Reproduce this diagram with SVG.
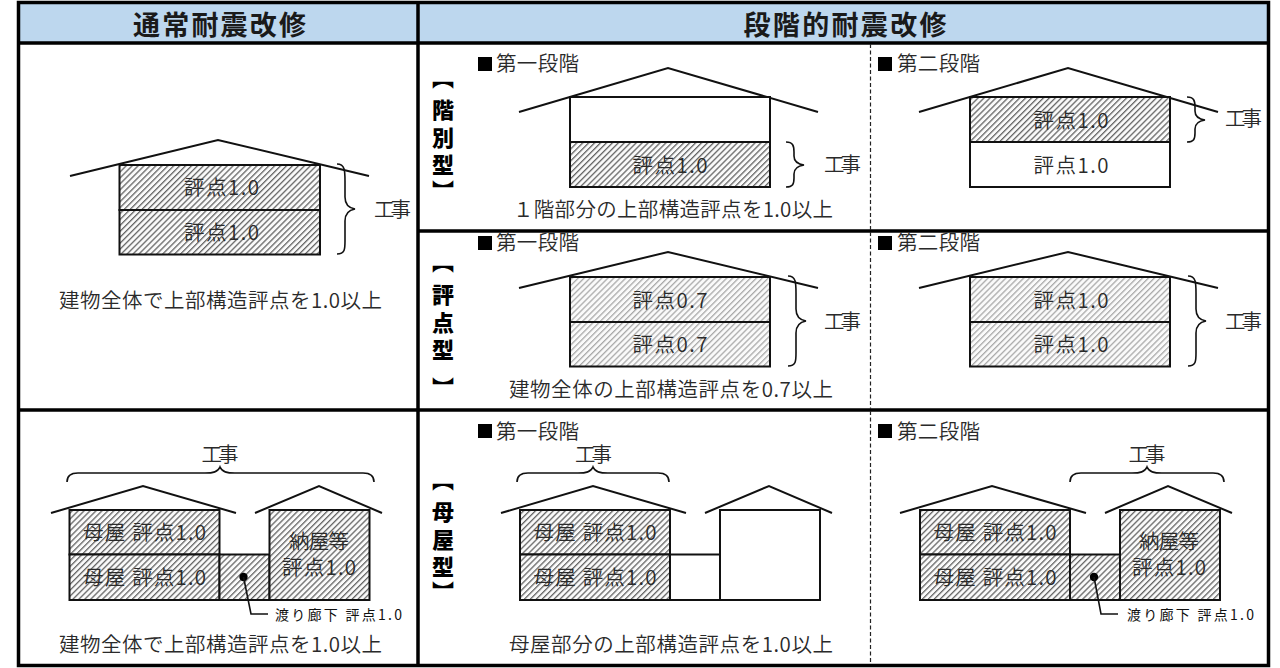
<svg xmlns="http://www.w3.org/2000/svg" width="1280" height="668" viewBox="0 0 1280 668">
<style>
text{font-family:"Noto Sans CJK JP","Noto Sans",sans-serif;fill:#2a2a2a}
.h{font-size:27px;font-weight:700;text-anchor:middle;fill:#1a1a1a}
.t{font-size:20.500px;font-weight:350;text-anchor:middle}
.l{font-size:20.500px;font-weight:350;text-anchor:start}
.s{font-size:14px;font-weight:400;text-anchor:start;fill:#111}
.k{font-size:22px;font-weight:900;writing-mode:vertical-rl;text-anchor:start;letter-spacing:5.500px;fill:#000}
.v{font-size:22px;font-weight:500;writing-mode:vertical-rl;text-anchor:middle;fill:#000}
.w{fill:#fff;stroke:#111;stroke-width:2}
.a{fill:url(#dense);stroke:#111;stroke-width:2}
.b{fill:url(#light);stroke:#111;stroke-width:2}
.r{fill:none;stroke:#111;stroke-width:2}
.c{fill:none;stroke:#111;stroke-width:1.6}
.f{fill:none;stroke:#000;stroke-width:3.5}
</style>
<defs>
<pattern id="dense" width="4.200" height="4.200" patternUnits="userSpaceOnUse" patternTransform="rotate(45)"><rect width="4.200" height="4.200" fill="#fafafa"/><rect width="1.300" height="4.200" fill="#666"/></pattern>
<pattern id="light" width="4.200" height="4.200" patternUnits="userSpaceOnUse" patternTransform="rotate(45)"><rect width="4.200" height="4.200" fill="#fafafa"/><rect width="1.300" height="4.200" fill="#aaa"/></pattern>
<path id="braceTall" d="M0,0C8,0 8,7 8,17L8,33C8,40 12,44 18,45C12,46 8,50 8,57L8,77C8,85 8,90 0,90"/>
<path id="braceShort" d="M0,0C7,0 8,4 8,10L8,14C8,19 11,22 18,23C11,24 8,27 8,32L8,36C8,42 7,45 0,45"/>
</defs>
<rect width="1280" height="668" fill="#fff"/>
<g id="header">
<rect x="19" y="3" width="1249" height="40" fill="#bdd7ee"/>
<text class="h" x="219.500" y="35" textLength="173">通常耐震改修</text>
<text class="h" x="845" y="35" textLength="203">段階的耐震改修</text>
</g>
<g id="grid">
<rect class="f" x="18.500" y="2.500" width="1250" height="663"/>
<path class="f" d="M18.500,43H1268.500M418,2.500V665.500M418,231H1268.500M18.500,410H1268.500"/>
<path d="M870.500,44V230M870.500,232V409M870.500,411V664" fill="none" stroke="#222" stroke-width="1.200" stroke-dasharray="4 2.500"/>
</g>
<g id="normal-a">
<path class="r" d="M70,176L218,140L369,176"/>
<rect class="a" x="119.500" y="165" width="200.500" height="45"/>
<rect class="a" x="119.500" y="210" width="200.500" height="44.500"/>
<use href="#braceTall" class="c" x="337" y="164"/>
<text class="t" x="221.500" y="195" textLength="75">評点1.0</text>
<text class="t" x="221.500" y="240" textLength="75">評点1.0</text>
<text class="t" x="392.500" y="217" textLength="37">工事</text>
<text class="t" x="220.500" y="308" textLength="323">建物全体で上部構造評点を1.0以上</text>
</g>
<g id="normal-b">
<path class="r" d="M51,513L143,486L236,513M255,513L319,486L382,513"/>
<rect class="a" x="69.500" y="510" width="150" height="44.500"/>
<rect class="a" x="69.500" y="554.500" width="150" height="45.500"/>
<rect class="a" x="219.500" y="554.500" width="50" height="45.500"/>
<rect class="a" x="269.500" y="510" width="100" height="90"/>
<path class="c" d="M67,482C67,476 71,473 78,473L205,473C213,473 218,472 220,467C222,472 227,473 235,473L363,473C370,473 374,476 374,482"/>
<circle cx="243.500" cy="577" r="4.200" fill="#000"/>
<path class="c" d="M243.500,577L251,614H268"/>
<text class="t" x="220" y="462" textLength="37">工事</text>
<text class="t" x="144.500" y="540" textLength="123">母屋 評点1.0</text>
<text class="t" x="144.500" y="585" textLength="123">母屋 評点1.0</text>
<text class="t" x="319" y="549" textLength="60">納屋等</text>
<text class="t" x="319" y="575" textLength="74">評点1.0</text>
<text class="s" x="275" y="620" textLength="127">渡り廊下 評点1.0</text>
<text class="t" x="220.500" y="652" textLength="323">建物全体で上部構造評点を1.0以上</text>
</g>
<g id="side-labels">
<text class="v" x="443" y="78">【</text>
<text class="k" x="443" y="99">階別型</text>
<text class="v" x="443" y="191">】</text>
<text class="v" x="443" y="262">【</text>
<text class="k" x="443" y="284">評点型</text>
<text class="v" x="443" y="388">】</text>
<text class="v" x="443" y="480">【</text>
<text class="k" x="443" y="501">母屋型</text>
<text class="v" x="443" y="592">】</text>
</g>
<g id="floor-1">
<rect x="478" y="57" width="14" height="14" fill="#000"/>
<text class="l" x="496" y="71" textLength="83">第一段階</text>
<path class="r" d="M519,112L668,68L818,112"/>
<rect class="w" x="570" y="97" width="200" height="45"/>
<rect class="a" x="570" y="142" width="200" height="45"/>
<use href="#braceShort" class="c" x="786" y="142"/>
<text class="t" x="670" y="173" textLength="75">評点1.0</text>
<text class="t" x="842.500" y="172" textLength="37">工事</text>
<text class="t" x="673" y="217" textLength="320">１階部分の上部構造評点を1.0以上</text>
</g>
<g id="floor-2">
<rect x="878" y="57" width="14" height="14" fill="#000"/>
<text class="l" x="897" y="71" textLength="83">第二段階</text>
<path class="r" d="M919,112L1068,68L1218,112"/>
<rect class="a" x="970" y="97" width="200" height="45"/>
<rect class="w" x="970" y="142" width="200" height="45"/>
<use href="#braceShort" class="c" x="1187" y="97"/>
<text class="t" x="1071" y="128" textLength="75">評点1.0</text>
<text class="t" x="1071" y="173" textLength="75">評点1.0</text>
<text class="t" x="1243.500" y="126" textLength="37">工事</text>
</g>
<g id="score-1">
<rect x="478" y="236" width="14" height="14" fill="#000"/>
<text class="l" x="496" y="250" textLength="83">第一段階</text>
<path class="r" d="M519,288L668,252L818,288"/>
<rect class="b" x="570" y="277" width="200" height="45"/>
<rect class="b" x="570" y="322" width="200" height="44.500"/>
<use href="#braceTall" class="c" x="788" y="276"/>
<text class="t" x="670" y="308" textLength="75">評点0.7</text>
<text class="t" x="670" y="352" textLength="75">評点0.7</text>
<text class="t" x="842.500" y="329" textLength="37">工事</text>
<text class="t" x="671" y="397" textLength="324">建物全体の上部構造評点を0.7以上</text>
</g>
<g id="score-2">
<rect x="878" y="236" width="14" height="14" fill="#000"/>
<text class="l" x="897" y="250" textLength="83">第二段階</text>
<path class="r" d="M919,288L1068,252L1218,288"/>
<rect class="b" x="970" y="277" width="200" height="45"/>
<rect class="b" x="970" y="322" width="200" height="44.500"/>
<use href="#braceTall" class="c" x="1188" y="276"/>
<text class="t" x="1071" y="308" textLength="75">評点1.0</text>
<text class="t" x="1071" y="352" textLength="75">評点1.0</text>
<text class="t" x="1243.500" y="329" textLength="37">工事</text>
</g>
<g id="main-1">
<rect x="478" y="424" width="14" height="14" fill="#000"/>
<text class="l" x="496" y="439" textLength="83">第一段階</text>
<path class="r" d="M501,513L593,486L686,513M705,513L769,486L832,513"/>
<rect class="a" x="520" y="510" width="150" height="44.500"/>
<rect class="a" x="520" y="554.500" width="150" height="45.500"/>
<rect class="w" x="670" y="554.500" width="50" height="45.500"/>
<rect class="w" x="720" y="510" width="100" height="90"/>
<path class="c" d="M517,482C517,476 521,473 528,473L578,473C586,473 591,472 593,467C595,472 600,473 608,473L658,473C665,473 669,476 669,482"/>
<text class="t" x="593.500" y="462" textLength="37">工事</text>
<text class="t" x="595" y="540" textLength="123">母屋 評点1.0</text>
<text class="t" x="595" y="585" textLength="123">母屋 評点1.0</text>
<text class="t" x="671" y="652" textLength="324">母屋部分の上部構造評点を1.0以上</text>
</g>
<g id="main-2">
<rect x="878" y="424" width="14" height="14" fill="#000"/>
<text class="l" x="897" y="439" textLength="83">第二段階</text>
<path class="r" d="M900,513L992,486L1086,513M1105,513L1168,486L1232,513"/>
<rect class="a" x="920" y="510" width="150" height="44.500"/>
<rect class="a" x="920" y="554.500" width="150" height="45.500"/>
<rect class="a" x="1070" y="554.500" width="50" height="45.500"/>
<rect class="a" x="1120" y="510" width="100" height="90"/>
<path class="c" d="M1070,482C1070,476 1074,473 1081,473L1132,473C1140,473 1145,472 1147,467C1149,472 1154,473 1162,473L1213,473C1220,473 1224,476 1224,482"/>
<circle cx="1094" cy="577" r="4.200" fill="#000"/>
<path class="c" d="M1094,577L1101,614H1118"/>
<text class="t" x="1147" y="462" textLength="37">工事</text>
<text class="t" x="995" y="540" textLength="123">母屋 評点1.0</text>
<text class="t" x="995" y="585" textLength="123">母屋 評点1.0</text>
<text class="t" x="1169" y="549" textLength="60">納屋等</text>
<text class="t" x="1169" y="575" textLength="74">評点1.0</text>
<text class="s" x="1127" y="620" textLength="127">渡り廊下 評点1.0</text>
</g>
</svg>
